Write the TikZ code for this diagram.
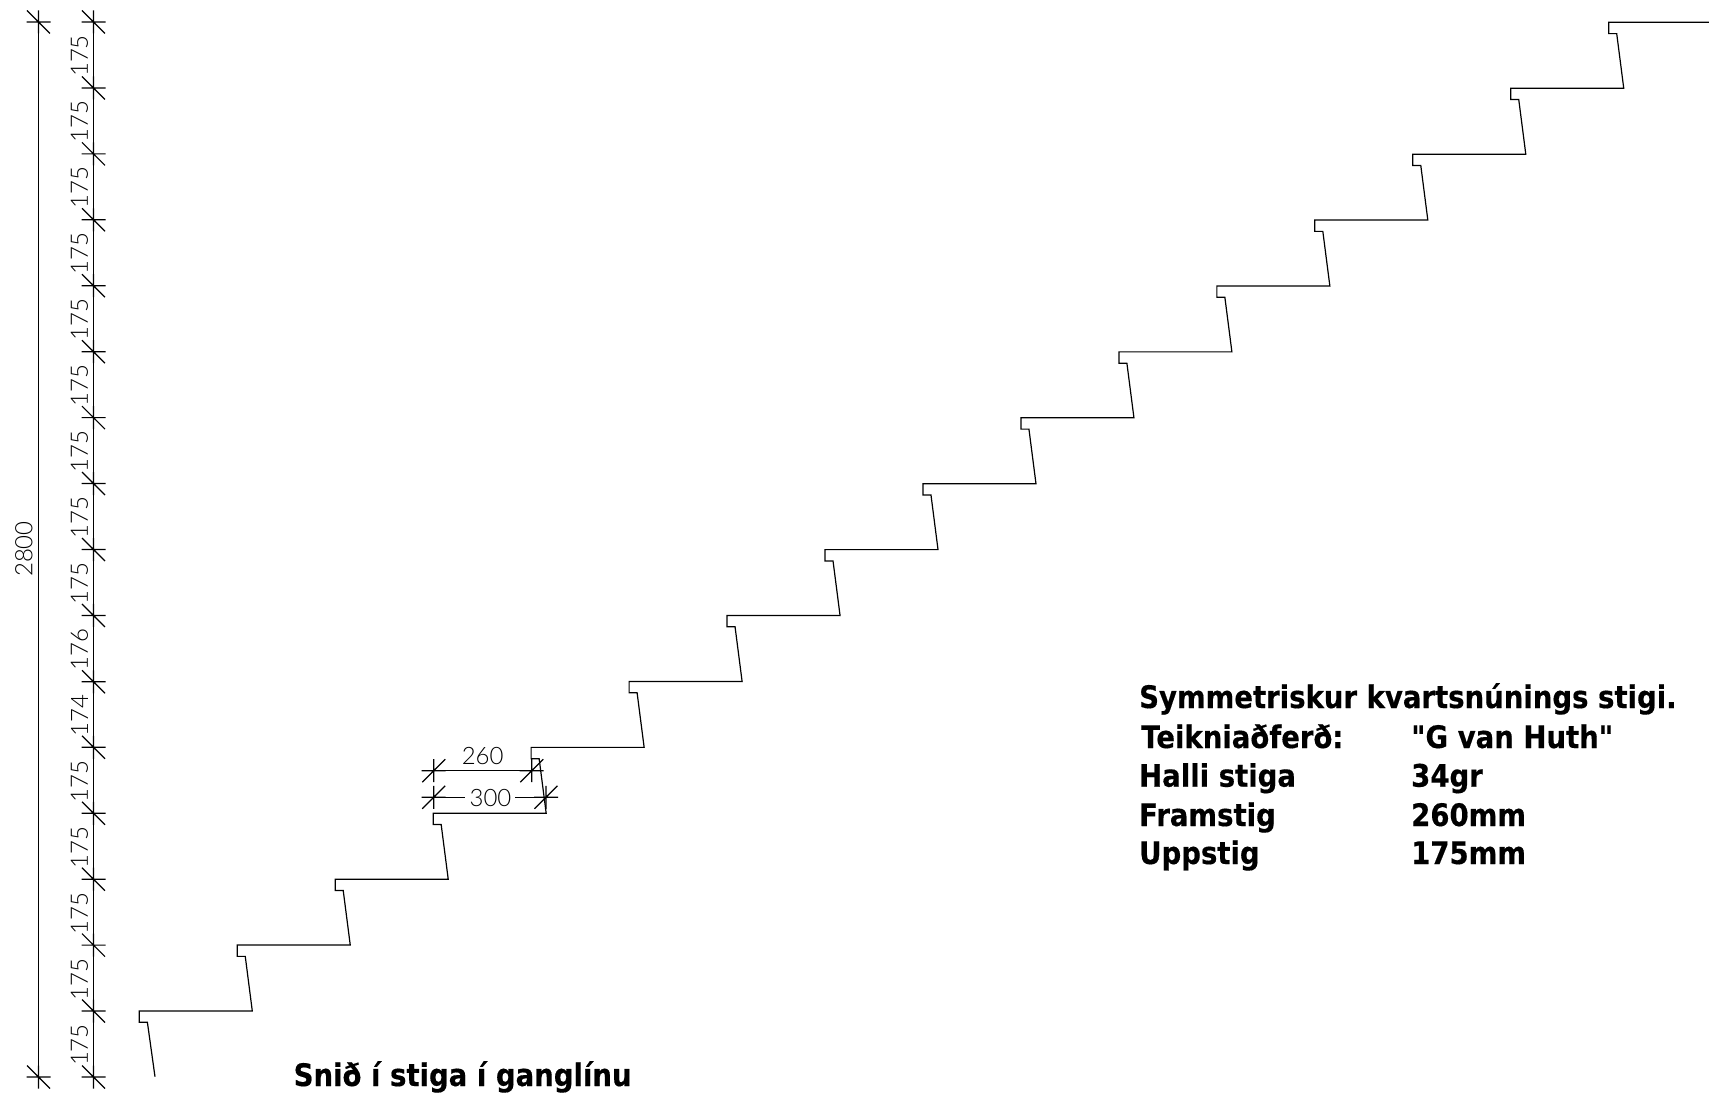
\documentclass[tikz,border=0pt]{standalone}
\usepackage{fontspec}
\newfontfamily\notef{DejaVu Sans}[UprightFont=* Bold,FakeStretch=0.888,FakeBold=0.4]
\newfontfamily\dimf{Lato}[UprightFont=* Light]
\newcommand{\dimfs}{\dimf\fontsize{24}{24}\selectfont}
\newcommand{\notefs}{\notef\fontsize{31}{31}\selectfont}
\tikzset{
  stairline/.style={line width=1.2pt,line join=miter,black},
  dimline/.style={line width=1.2pt,black},
  dimtext/.style={inner sep=0pt,font=\dimfs,text=black},
  notetext/.style={inner sep=0pt,anchor=base west,font=\notefs,text=black},
}
\newcommand{\vtick}[2]{%
  \draw[dimline] (#1-12,#2) -- (#1+12,#2) (#1,#2-11.5) -- (#1,#2+11.5) (#1-11.5,#2-11.5) -- (#1+11.5,#2+11.5);}
\newcommand{\htick}[2]{%
  \draw[dimline] (#1-12,#2) -- (#1+12,#2) (#1,#2-11.5) -- (#1,#2+11.5) (#1-11.5,#2+11.5) -- (#1+11.5,#2-11.5);}
\begin{document}
\begin{tikzpicture}[x=1pt,y=-1pt]
\useasboundingbox (0,0) rectangle (1709,1099);
% stairs
\draw[stairline] (155,1076.7) -- (147.4,1022.3) -- (139.3,1022.3) -- (139.3,1011)
  foreach \k in {0,...,14} {
    -- ({139.3+97.96*\k+113},{1011-65.91*\k})
    -- ({139.3+97.96*(\k+1)+8},{1011-65.91*(\k+1)+11.3})
    -- ({139.3+97.96*(\k+1)},{1011-65.91*(\k+1)+11.3})
    -- ({139.3+97.96*(\k+1)},{1011-65.91*(\k+1)})
  } -- (1709,22.3);
% overall dimension
\draw[dimline] (38.5,11) -- (38.5,1088);
\vtick{38.5}{22}
\vtick{38.5}{1077}
\node[dimtext,rotate=90] (total) at (24,549) {2800};
% riser dimensions
\draw[dimline] (93.5,11) -- (93.5,1088);
\foreach \mm in {0,175,350,525,700,875,1050,1225,1400,1575,1751,1925,2100,2275,2450,2625,2800}
  {\pgfmathsetmacro{\yy}{22+0.37679*\mm}\vtick{93.5}{\yy}}
\foreach \i/\v in {0/175,1/175,2/175,3/175,4/175,5/175,6/175,7/175,8/175,9/176,10/174,11/175,12/175,13/175,14/175,15/175}
  {\pgfmathsetmacro{\yy}{22+65.94*\i+34}
   \node[dimtext,rotate=90] (rise\i) at (79.5,\yy) {\v};}
% tread dimensions
\draw[dimline] (421.7,770.7) -- (543.3,770.7);
\htick{433.7}{770.7}
\htick{531.7}{770.7}
\node[dimtext] (going) at (482.7,756.5) {260};
\draw[dimline] (421.7,797.3) -- (465,797.3) (515,797.3) -- (558,797.3);
\htick{433.7}{797.3}
\htick{546}{797.3}
\node[dimtext] (run) at (490.5,798) {300};
% notes
\node[notetext] (title) at (1139,708) {Symmetriskur kvartsnúnings stigi.};
\node[notetext] (n1a) at (1141,748) {Teikniaðferð:};
\node[notetext] (n1b) at (1411,748) {"G van Huth"};
\node[notetext] (n2a) at (1139,786.7) {Halli stiga};
\node[notetext] (n2b) at (1411,786.7) {34gr};
\node[notetext] (n3a) at (1139,826) {Framstig};
\node[notetext] (n3b) at (1411,826) {260mm};
\node[notetext] (n4a) at (1139,864) {Uppstig};
\node[notetext] (n4b) at (1411,864) {175mm};
\node[notetext] (cap) at (293.5,1086) {Snið í stiga í ganglínu};
\end{tikzpicture}
\end{document}
